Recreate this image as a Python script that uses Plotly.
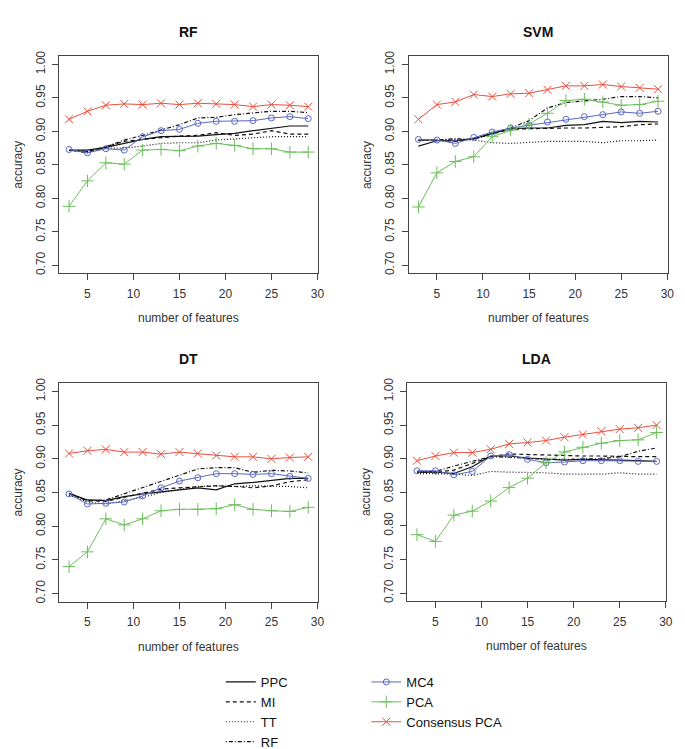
import plotly.graph_objects as go

# ---------------- data ----------------
n_features = [3, 5, 7, 9, 11, 13, 15, 17, 19, 21, 23, 25, 27, 29]
panels = ["RF", "SVM", "DT", "LDA"]
series_names = ["PPC", "MI", "TT", "RF", "MC4", "PCA", "Consensus PCA"]

# RF classifier
rf_ppc = [0.872, 0.872, 0.876, 0.882, 0.888, 0.892, 0.892, 0.893, 0.895, 0.897, 0.901, 0.905, 0.908, 0.908]
rf_mi = [0.872, 0.870, 0.877, 0.885, 0.888, 0.891, 0.893, 0.894, 0.898, 0.894, 0.896, 0.901, 0.896, 0.896]
rf_tt = [0.872, 0.870, 0.875, 0.875, 0.878, 0.882, 0.883, 0.883, 0.887, 0.889, 0.891, 0.892, 0.892, 0.892]
rf_rf = [0.872, 0.868, 0.877, 0.887, 0.894, 0.902, 0.910, 0.920, 0.921, 0.925, 0.928, 0.930, 0.930, 0.928]
rf_mc4 = [0.873, 0.868, 0.874, 0.872, 0.892, 0.901, 0.903, 0.912, 0.915, 0.915, 0.916, 0.920, 0.922, 0.919]
rf_pca = [0.788, 0.826, 0.853, 0.851, 0.872, 0.873, 0.871, 0.878, 0.882, 0.879, 0.874, 0.874, 0.869, 0.869]
rf_cpca = [0.918, 0.930, 0.939, 0.941, 0.940, 0.942, 0.940, 0.942, 0.941, 0.940, 0.937, 0.940, 0.939, 0.937]

# SVM classifier
svm_ppc = [0.878, 0.886, 0.886, 0.889, 0.897, 0.904, 0.905, 0.905, 0.909, 0.910, 0.915, 0.913, 0.915, 0.914]
svm_mi = [0.887, 0.887, 0.885, 0.889, 0.896, 0.903, 0.904, 0.905, 0.905, 0.905, 0.906, 0.907, 0.910, 0.911]
svm_tt = [0.887, 0.888, 0.888, 0.887, 0.883, 0.882, 0.884, 0.885, 0.885, 0.885, 0.883, 0.886, 0.886, 0.887]
svm_rf = [0.887, 0.887, 0.889, 0.888, 0.897, 0.905, 0.916, 0.935, 0.943, 0.945, 0.948, 0.952, 0.952, 0.950]
svm_mc4 = [0.888, 0.887, 0.882, 0.891, 0.899, 0.905, 0.909, 0.914, 0.918, 0.922, 0.925, 0.929, 0.927, 0.930]
svm_pca = [0.787, 0.838, 0.855, 0.862, 0.892, 0.902, 0.911, 0.927, 0.946, 0.948, 0.944, 0.939, 0.940, 0.945]
svm_cpca = [0.918, 0.940, 0.944, 0.955, 0.952, 0.956, 0.957, 0.962, 0.968, 0.968, 0.970, 0.967, 0.965, 0.963]

# DT classifier
dt_ppc = [0.849, 0.839, 0.838, 0.844, 0.848, 0.851, 0.854, 0.857, 0.854, 0.863, 0.865, 0.868, 0.871, 0.871]
dt_mi = [0.848, 0.838, 0.837, 0.843, 0.849, 0.855, 0.857, 0.859, 0.860, 0.859, 0.857, 0.860, 0.866, 0.869]
dt_tt = [0.846, 0.836, 0.833, 0.838, 0.843, 0.850, 0.855, 0.859, 0.860, 0.859, 0.860, 0.860, 0.859, 0.857]
dt_rf = [0.849, 0.838, 0.839, 0.848, 0.857, 0.867, 0.875, 0.885, 0.887, 0.887, 0.880, 0.883, 0.882, 0.879]
dt_mc4 = [0.848, 0.833, 0.834, 0.836, 0.845, 0.857, 0.867, 0.872, 0.878, 0.878, 0.877, 0.878, 0.874, 0.871]
dt_pca = [0.740, 0.762, 0.811, 0.802, 0.811, 0.823, 0.825, 0.825, 0.826, 0.832, 0.825, 0.823, 0.822, 0.828]
dt_cpca = [0.908, 0.912, 0.914, 0.910, 0.910, 0.907, 0.910, 0.908, 0.905, 0.903, 0.903, 0.900, 0.902, 0.903]

# LDA classifier
lda_ppc = [0.880, 0.880, 0.878, 0.888, 0.904, 0.904, 0.901, 0.900, 0.898, 0.899, 0.899, 0.898, 0.897, 0.896]
lda_mi = [0.880, 0.880, 0.883, 0.893, 0.903, 0.907, 0.906, 0.906, 0.905, 0.904, 0.904, 0.903, 0.903, 0.903]
lda_tt = [0.878, 0.878, 0.877, 0.875, 0.881, 0.880, 0.880, 0.879, 0.877, 0.877, 0.877, 0.879, 0.877, 0.877]
lda_rf = [0.880, 0.881, 0.889, 0.896, 0.903, 0.902, 0.900, 0.899, 0.899, 0.900, 0.900, 0.903, 0.911, 0.916]
lda_mc4 = [0.882, 0.882, 0.876, 0.881, 0.904, 0.906, 0.899, 0.894, 0.895, 0.897, 0.897, 0.897, 0.896, 0.896]
lda_pca = [0.787, 0.777, 0.816, 0.822, 0.837, 0.857, 0.871, 0.894, 0.910, 0.917, 0.923, 0.927, 0.928, 0.939]
lda_cpca = [0.897, 0.904, 0.909, 0.909, 0.914, 0.922, 0.924, 0.927, 0.932, 0.936, 0.941, 0.944, 0.946, 0.950]

x_ticks = [5, 10, 15, 20, 25, 30]
y_ticks = [0.70, 0.75, 0.80, 0.85, 0.90, 0.95, 1.00]
x_title = "number of features"
y_title = "accuracy"

panel_data = {
    "RF": [rf_ppc, rf_mi, rf_tt, rf_rf, rf_mc4, rf_pca, rf_cpca],
    "SVM": [svm_ppc, svm_mi, svm_tt, svm_rf, svm_mc4, svm_pca, svm_cpca],
    "DT": [dt_ppc, dt_mi, dt_tt, dt_rf, dt_mc4, dt_pca, dt_cpca],
    "LDA": [lda_ppc, lda_mi, lda_tt, lda_rf, lda_mc4, lda_pca, lda_cpca],
}

# ---------------- styles ----------------
W, H = 685, 749
FONT = "Liberation Sans, Arial, Helvetica, sans-serif"
BLUE = "#5a66c4"
GREEN = "#6cbf5a"
RED = "#e8503f"
styles = {
    "PPC": dict(line=dict(color="#111111", width=1.2, dash="solid"), mode="lines"),
    "MI": dict(line=dict(color="#111111", width=1.2, dash="4px,3px"), mode="lines"),
    "TT": dict(line=dict(color="#111111", width=1.2, dash="1px,2px"), mode="lines"),
    "RF": dict(line=dict(color="#111111", width=1.2, dash="1px,2px,4px,2px"), mode="lines"),
    "MC4": dict(line=dict(color=BLUE, width=1), mode="lines+markers",
                marker=dict(symbol="circle-open", size=6, color=BLUE, line=dict(width=1, color=BLUE))),
    "PCA": dict(line=dict(color=GREEN, width=1), mode="lines+markers",
                marker=dict(symbol="cross-thin-open", size=9, color=GREEN, line=dict(width=1, color=GREEN))),
    "Consensus PCA": dict(line=dict(color=RED, width=1), mode="lines+markers",
                          marker=dict(symbol="x-thin-open", size=8, color=RED, line=dict(width=1, color=RED))),
}

# panel boxes in pixels: (left, right, top, bottom)
boxes = {
    "RF": (52, 313, 43.5, 266),
    "SVM": (405, 666.5, 43.5, 266),
    "DT": (52, 313, 379, 603),
    "LDA": (403.5, 665, 379, 602.5),
}

fig = go.Figure()
layout = dict(
    width=W, height=H,
    margin=dict(l=0, r=0, t=0, b=0),
    paper_bgcolor="white", plot_bgcolor="white",
    font=dict(family=FONT, size=12, color="#222222"),
    annotations=[],
)

for i, p in enumerate(panels):
    ax = "" if i == 0 else str(i + 1)
    l, r, t, b = boxes[p]
    xd = [l / W, r / W]
    yd = [1 - b / H, 1 - t / H]
    axis_common = dict(showline=True, mirror=True, linecolor="#444444", linewidth=1,
                       showgrid=False, zeroline=False, ticks="outside", ticklen=6,
                       tickcolor="#444444", tickfont=dict(family=FONT, size=12, color="#333333"))
    layout["xaxis" + ax] = dict(domain=xd, range=[1.96, 30.04], tickvals=x_ticks,
                                anchor="y" + ax, ticklabelstandoff=3, **axis_common)
    layout["yaxis" + ax] = dict(domain=yd, range=[0.688, 1.012], tickvals=y_ticks,
                                tickformat=".2f", tickangle=-90, anchor="x" + ax,
                                ticklabelstandoff=3, **axis_common)
    for j, name in enumerate(series_names):
        st = styles[name]
        tr = go.Scatter(x=n_features, y=panel_data[p][j], name=name,
                        xaxis="x" + ax, yaxis="y" + ax,
                        showlegend=(i == 0), legendgroup=name,
                        legend=("legend" if j < 4 else "legend2"),
                        hoverinfo="skip", **st)
        fig.add_trace(tr)
    cx = (l + r) / 2 / W
    layout["annotations"] += [
        dict(text="<b>%s</b>" % p, x=cx, y=1 - (t - 25.5) / H, xref="paper", yref="paper",
             showarrow=False, xanchor="center", yanchor="middle",
             font=dict(family=FONT, size=14, color="#111111")),
        dict(text=x_title, x=cx, y=1 - (b + 46) / H, xref="paper", yref="paper",
             showarrow=False, xanchor="center", yanchor="middle",
             font=dict(family=FONT, size=12, color="#333333")),
        dict(text=y_title, x=(l - 42) / W, y=1 - (t + b) / 2 / H, xref="paper", yref="paper",
             showarrow=False, xanchor="center", yanchor="middle", textangle=-90,
             font=dict(family=FONT, size=12, color="#333333")),
    ]

leg_common = dict(bgcolor="rgba(0,0,0,0)", borderwidth=0, orientation="v",
                  font=dict(family=FONT, size=13, color="#111111"),
                  xanchor="left", yanchor="top", traceorder="normal", itemwidth=30)
layout["legend"] = dict(x=215 / W, y=1 - 670 / H, **leg_common)
layout["legend2"] = dict(x=362 / W, y=1 - 670 / H, **leg_common)

fig.update_layout(**layout)
fig.write_html("out.html")
